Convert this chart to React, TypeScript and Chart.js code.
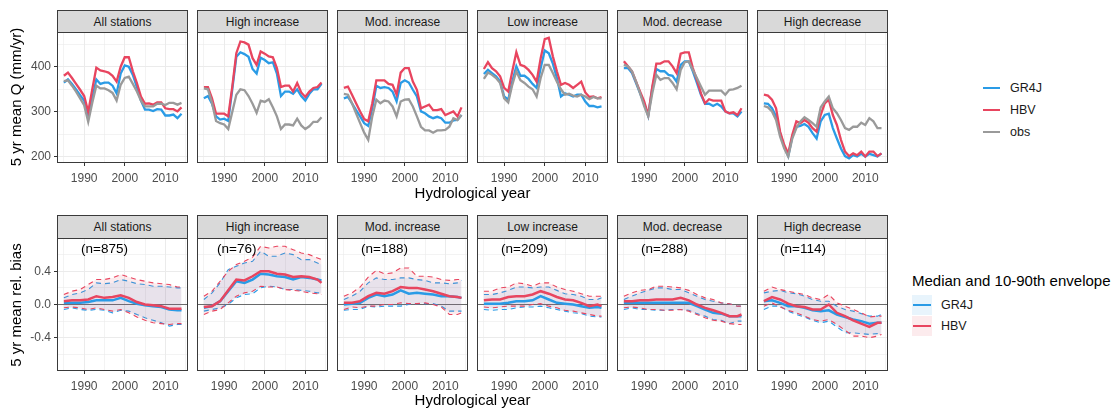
import React, { useEffect, useRef } from "react";
import { Chart, registerables } from "chart.js";

Chart.register(...registerables);

// ---------------- DATA ----------------
const YEARS = [
  1985, 1986, 1987, 1988, 1989, 1990, 1991, 1992, 1993, 1994, 1995, 1996, 1997, 1998, 1999,
  2000, 2001, 2002, 2003, 2004, 2005, 2006, 2007, 2008, 2009, 2010, 2011, 2012, 2013, 2014,
];
const YEARS_B = [1985, 1987, 1989, 1991, 1993, 1995, 1997, 1999, 2001, 2003, 2005, 2007, 2009, 2011, 2013, 2014];

const PANELS = ["All stations", "High increase", "Mod. increase", "Low increase", "Mod. decrease", "High decrease"];
const COUNTS = ["(n=875)", "(n=76)", "(n=188)", "(n=209)", "(n=288)", "(n=114)"];

const X_TICKS = [1985, 1990, 1995, 2000, 2005, 2010, 2015];
const Q_TICKS = [200, 250, 300, 350, 400, 450];
const B_TICKS = [-0.6, -0.4, -0.2, 0, 0.2, 0.4, 0.6];

// 5 yr mean Q (mm/yr), one row per panel
const Q_GR4J = [
  [365, 372, 362, 350, 337, 325, 288, 330, 372, 362, 365, 365, 358, 341, 385, 403, 400, 382, 355, 325, 305, 305, 302, 306, 305, 292, 292, 294, 286, 296],
  [330, 335, 318, 290, 283, 285, 280, 350, 422, 432, 428, 422, 395, 385, 420, 415, 408, 410, 385, 335, 345, 345, 340, 350, 335, 325, 340, 350, 350, 362],
  [330, 333, 319, 304, 290, 275, 269, 308, 358, 353, 355, 353, 345, 323, 364, 370, 365, 349, 334, 301, 297, 290, 286, 289, 286, 276, 276, 281, 282, 293],
  [384, 393, 386, 379, 367, 334, 327, 367, 401, 380, 380, 373, 362, 353, 397, 436, 430, 407, 375, 334, 341, 338, 334, 338, 338, 323, 313, 313, 310, 312],
  [397, 397, 386, 364, 341, 319, 291, 353, 395, 390, 390, 382, 380, 367, 404, 412, 412, 390, 364, 338, 318, 318, 313, 318, 312, 301, 297, 297, 290, 301],
  [319, 318, 308, 290, 253, 223, 202, 245, 267, 269, 273, 267, 253, 241, 279, 293, 296, 264, 241, 219, 202, 197, 204, 201, 207, 201, 207, 204, 201, 208],
];
const Q_HBV = [
  [380, 387, 375, 362, 349, 335, 300, 350, 398, 392, 390, 387, 380, 367, 400, 421, 421, 390, 364, 334, 318, 319, 316, 321, 321, 308, 306, 306, 301, 310],
  [355, 355, 330, 296, 296, 296, 290, 356, 430, 456, 454, 449, 419, 404, 434, 429, 423, 421, 397, 355, 358, 358, 345, 364, 343, 333, 345, 353, 355, 365],
  [353, 356, 338, 319, 301, 284, 279, 319, 370, 370, 370, 362, 360, 338, 387, 397, 397, 367, 349, 308, 312, 316, 304, 304, 306, 293, 297, 301, 290, 310],
  [395, 410, 397, 390, 379, 353, 345, 390, 432, 404, 401, 393, 382, 367, 419, 461, 464, 423, 390, 360, 364, 360, 353, 360, 367, 343, 333, 334, 330, 333],
  [412, 401, 390, 367, 345, 323, 293, 356, 407, 407, 412, 412, 401, 386, 429, 432, 432, 397, 371, 341, 319, 328, 325, 325, 325, 301, 297, 299, 293, 308],
  [338, 336, 327, 308, 256, 227, 208, 249, 279, 275, 282, 276, 264, 256, 293, 319, 327, 293, 271, 238, 212, 202, 208, 204, 212, 201, 212, 212, 202, 208],
];
const Q_OBS = [
  [368, 370, 358, 345, 330, 315, 278, 320, 358, 352, 352, 348, 342, 325, 360, 375, 378, 362, 345, 325, 312, 312, 312, 318, 318, 315, 320, 320, 316, 320],
  [352, 350, 320, 280, 275, 272, 262, 300, 338, 350, 348, 335, 318, 298, 325, 322, 328, 310, 290, 262, 272, 272, 270, 285, 270, 262, 268, 278, 278, 288],
  [340, 338, 319, 297, 275, 254, 238, 290, 327, 319, 325, 323, 312, 290, 323, 327, 328, 312, 290, 267, 259, 259, 254, 259, 259, 260, 267, 286, 282, 293],
  [373, 387, 382, 375, 364, 330, 321, 360, 390, 370, 364, 356, 350, 334, 375, 404, 404, 386, 367, 350, 338, 340, 336, 334, 338, 334, 328, 333, 330, 330],
  [404, 401, 390, 367, 341, 313, 290, 341, 382, 371, 375, 375, 364, 350, 393, 410, 412, 393, 375, 356, 338, 347, 347, 347, 347, 338, 349, 350, 353, 358],
  [313, 310, 301, 282, 245, 219, 201, 241, 264, 279, 288, 282, 275, 267, 310, 323, 334, 308, 297, 282, 264, 260, 267, 267, 276, 271, 286, 279, 264, 264],
];

// 5 yr mean relative bias: medians and 10th / 90th percentiles (at YEARS_B)
const B_GR4J_MED = [
  [0.02, 0.02, 0.02, 0.03, 0.05, 0.05, 0.05, 0.08, 0.04, 0.01, -0.01, -0.02, -0.03, -0.06, -0.07, -0.07],
  [-0.04, -0.02, 0.04, 0.16, 0.28, 0.26, 0.3, 0.37, 0.36, 0.34, 0.33, 0.3, 0.33, 0.32, 0.3, 0.29],
  [0.0, 0.01, 0.02, 0.08, 0.12, 0.1, 0.12, 0.17, 0.13, 0.14, 0.13, 0.12, 0.1, 0.1, 0.09, 0.08],
  [0.01, 0.01, 0.01, 0.02, 0.04, 0.04, 0.05, 0.1, 0.06, 0.02, 0.01, 0.0, -0.02, -0.04, -0.03, -0.04],
  [0.02, 0.02, 0.02, 0.02, 0.02, 0.02, 0.02, 0.02, 0.02, -0.02, -0.06, -0.1, -0.11, -0.14, -0.14, -0.14],
  [0.04, 0.05, 0.02, -0.02, -0.02, -0.04, -0.07, -0.08, -0.07, -0.12, -0.15, -0.18, -0.2, -0.23, -0.22, -0.22],
];
const B_HBV_MED = [
  [0.04, 0.05, 0.05, 0.06, 0.1, 0.08, 0.09, 0.11, 0.08, 0.03, 0.0, -0.01, -0.02, -0.05, -0.05, -0.05],
  [-0.03, -0.02, 0.04, 0.17, 0.3, 0.29, 0.34, 0.4, 0.4, 0.37, 0.36, 0.33, 0.34, 0.33, 0.3, 0.26],
  [0.02, 0.02, 0.04, 0.1, 0.14, 0.13, 0.16, 0.21, 0.2, 0.2, 0.18, 0.16, 0.13, 0.1, 0.09, 0.08],
  [0.05, 0.06, 0.06, 0.09, 0.1, 0.1, 0.12, 0.16, 0.13, 0.09, 0.06, 0.05, 0.02, -0.02, 0.0, -0.02],
  [0.04, 0.04, 0.05, 0.05, 0.06, 0.06, 0.06, 0.08, 0.05, 0.0, -0.04, -0.07, -0.1, -0.14, -0.14, -0.12],
  [0.04, 0.09, 0.06, 0.01, -0.02, -0.03, -0.06, -0.06, 0.0, -0.1, -0.14, -0.19, -0.23, -0.27, -0.22, -0.22],
];
const B_GR4J_HI = [
  [0.08, 0.12, 0.14, 0.18, 0.26, 0.25, 0.26, 0.3, 0.28, 0.25, 0.24, 0.22, 0.22, 0.21, 0.2, 0.2],
  [0.06, 0.14, 0.26, 0.42, 0.46, 0.5, 0.52, 0.64, 0.58, 0.58, 0.62, 0.6, 0.54, 0.54, 0.5, 0.48],
  [0.06, 0.1, 0.16, 0.26, 0.32, 0.3, 0.3, 0.32, 0.32, 0.3, 0.29, 0.26, 0.26, 0.25, 0.26, 0.29],
  [0.12, 0.12, 0.14, 0.17, 0.21, 0.21, 0.2, 0.21, 0.21, 0.17, 0.13, 0.12, 0.1, 0.06, 0.06, 0.08],
  [0.06, 0.1, 0.14, 0.17, 0.2, 0.2, 0.18, 0.18, 0.14, 0.1, 0.06, 0.04, 0.02, 0.01, -0.02, -0.02],
  [0.14, 0.16, 0.17, 0.14, 0.13, 0.1, 0.06, 0.04, 0.04, -0.02, -0.06, -0.08, -0.11, -0.14, -0.14, -0.12],
];
const B_HBV_HI = [
  [0.12, 0.16, 0.18, 0.24, 0.3, 0.3, 0.32, 0.36, 0.33, 0.3, 0.28, 0.26, 0.25, 0.24, 0.21, 0.21],
  [0.1, 0.16, 0.28, 0.4, 0.48, 0.52, 0.57, 0.7, 0.68, 0.7, 0.7, 0.66, 0.62, 0.6, 0.56, 0.54],
  [0.1, 0.14, 0.21, 0.33, 0.41, 0.37, 0.38, 0.44, 0.44, 0.34, 0.34, 0.33, 0.3, 0.29, 0.3, 0.3],
  [0.16, 0.16, 0.2, 0.21, 0.26, 0.25, 0.22, 0.26, 0.26, 0.21, 0.18, 0.16, 0.13, 0.1, 0.1, 0.1],
  [0.1, 0.14, 0.17, 0.18, 0.22, 0.22, 0.21, 0.2, 0.17, 0.12, 0.08, 0.06, 0.02, 0.01, -0.02, -0.02],
  [0.16, 0.21, 0.18, 0.16, 0.14, 0.12, 0.08, 0.06, 0.12, 0.02, -0.02, -0.06, -0.1, -0.15, -0.14, -0.14],
];
const B_GR4J_LO = [
  [-0.06, -0.04, -0.06, -0.07, -0.06, -0.07, -0.1, -0.07, -0.08, -0.12, -0.16, -0.19, -0.22, -0.26, -0.24, -0.24],
  [-0.08, -0.06, -0.04, 0.0, 0.08, 0.12, 0.13, 0.2, 0.22, 0.21, 0.18, 0.18, 0.17, 0.16, 0.14, 0.14],
  [-0.07, -0.06, -0.06, -0.02, -0.03, -0.02, -0.02, -0.02, 0.0, 0.01, 0.01, 0.01, -0.02, -0.08, -0.08, -0.08],
  [-0.06, -0.07, -0.06, -0.06, -0.04, -0.03, -0.03, -0.02, -0.04, -0.06, -0.08, -0.1, -0.11, -0.14, -0.15, -0.15],
  [-0.06, -0.04, -0.06, -0.06, -0.07, -0.07, -0.06, -0.06, -0.07, -0.11, -0.14, -0.18, -0.19, -0.23, -0.2, -0.2],
  [-0.06, -0.02, -0.02, -0.08, -0.12, -0.15, -0.19, -0.22, -0.2, -0.27, -0.34, -0.34, -0.35, -0.36, -0.35, -0.36],
];
const B_HBV_LO = [
  [-0.04, -0.03, -0.04, -0.06, -0.04, -0.06, -0.08, -0.06, -0.1, -0.15, -0.19, -0.22, -0.23, -0.24, -0.23, -0.23],
  [-0.12, -0.08, -0.06, 0.02, 0.1, 0.14, 0.16, 0.22, 0.21, 0.21, 0.18, 0.17, 0.16, 0.14, 0.13, 0.12],
  [-0.06, -0.03, -0.04, -0.02, -0.02, 0.0, 0.0, 0.02, 0.01, 0.01, 0.02, 0.0, -0.03, -0.12, -0.12, -0.1],
  [-0.03, -0.04, -0.03, -0.02, -0.02, -0.02, 0.0, 0.01, -0.02, -0.04, -0.07, -0.08, -0.1, -0.12, -0.14, -0.14],
  [-0.04, -0.03, -0.04, -0.06, -0.06, -0.07, -0.07, -0.06, -0.08, -0.12, -0.16, -0.19, -0.2, -0.23, -0.24, -0.24],
  [-0.02, 0.02, -0.03, -0.07, -0.1, -0.14, -0.18, -0.2, -0.18, -0.24, -0.31, -0.38, -0.38, -0.4, -0.38, -0.36],
];

// ---------------- STYLE / LAYOUT ----------------
const BLUE = "#2a9be6";
const RED = "#e8455f";
const GREY = "#9a9a9a";
const BLUE_FILL = "rgba(42,155,230,0.11)";
const RED_FILL = "rgba(232,69,95,0.11)";
const FONT = "'Liberation Sans', Arial, Helvetica, sans-serif";

const X_MIN = 1983.3;
const X_MAX = 2015.6;
const PANEL_LEFT0 = 57;
const PANEL_STEP = 140;
const PANEL_W = 131;
const Y_AXIS_W = 34;
const X_AXIS_H = 30;
const N_LABEL_OFFSET = [24, 20, 24, 24, 24, 23];
const TOP_ROW = { strip: 10, plotTop: 32, plotH: 131, yMin: 186.7, yMax: 477 };
const BOT_ROW = { strip: 215, plotTop: 238, plotH: 133, yMin: -0.8, yMax: 0.8 };

const panelBorder = {
  id: "panelBorder",
  afterDraw(chart: any) {
    const { ctx, chartArea: a } = chart;
    ctx.save();
    ctx.strokeStyle = "#3a3a3a";
    ctx.lineWidth = 1;
    ctx.strokeRect(
      Math.round(a.left) + 0.5,
      Math.round(a.top) + 0.5,
      Math.round(a.right - a.left) - 1,
      Math.round(a.bottom - a.top) - 1
    );
    ctx.restore();
  },
};

function FacetChart({ kind, idx }: { kind: "q" | "bias"; idx: number }) {
  const ref = useRef<HTMLCanvasElement | null>(null);
  const first = idx === 0;
  const yW = first ? Y_AXIS_W : 0;
  const row = kind === "q" ? TOP_ROW : BOT_ROW;
  const left = PANEL_LEFT0 + idx * PANEL_STEP - yW;
  const w = PANEL_W + yW;
  const h = row.plotH + X_AXIS_H;

  useEffect(() => {
    const pts = (xs: number[], ys: number[]) => xs.map((x, i) => ({ x, y: ys[i] }));
    let datasets: any[];
    if (kind === "q") {
      const line = (label: string, ys: number[], color: string) => ({
        label,
        data: pts(YEARS, ys),
        borderColor: color,
        backgroundColor: color,
        borderWidth: 2.3,
        pointRadius: 0,
        tension: 0,
        fill: false,
      });
      datasets = [
        line("obs", Q_OBS[idx], GREY),
        line("HBV", Q_HBV[idx], RED),
        line("GR4J", Q_GR4J[idx], BLUE),
      ];
    } else {
      const med = (label: string, ys: number[], color: string) => ({
        label,
        data: pts(YEARS_B, ys),
        borderColor: color,
        borderWidth: 2.5,
        pointRadius: 0,
        tension: 0,
        fill: false,
      });
      const env = (label: string, ys: number[], color: string, fillColor: string | null) => ({
        label,
        data: pts(YEARS_B, ys),
        borderColor: color,
        borderWidth: 1.1,
        borderDash: [5, 4],
        pointRadius: 0,
        tension: 0,
        fill: fillColor ? "-1" : false,
        backgroundColor: fillColor || "transparent",
      });
      datasets = [
        med("HBV median", B_HBV_MED[idx], RED),
        med("GR4J median", B_GR4J_MED[idx], BLUE),
        env("HBV 10th", B_HBV_LO[idx], RED, null),
        env("HBV 90th", B_HBV_HI[idx], RED, RED_FILL),
        env("GR4J 10th", B_GR4J_LO[idx], BLUE, null),
        env("GR4J 90th", B_GR4J_HI[idx], BLUE, BLUE_FILL),
      ];
    }

    const yTicks = kind === "q" ? Q_TICKS : B_TICKS;
    const yLabel = (v: number) => {
      if (kind === "q") return v % 100 === 0 ? String(v) : "";
      const r = Math.round(v * 10);
      return r % 4 === 0 ? (r / 10).toFixed(1) : "";
    };
    const yMajor = (v: number) => yLabel(v) !== "";

    const chart = new Chart(ref.current as HTMLCanvasElement, {
      type: "line",
      data: { datasets },
      plugins: [panelBorder],
      options: {
        animation: false,
        responsive: false,
        maintainAspectRatio: false,
        layout: { padding: 0 },
        plugins: { legend: { display: false }, tooltip: { enabled: false }, title: { display: false } },
        scales: {
          x: {
            type: "linear",
            min: X_MIN,
            max: X_MAX,
            afterBuildTicks: (s: any) => {
              s.ticks = X_TICKS.map((v) => ({ value: v }));
            },
            afterFit: (s: any) => {
              s.height = X_AXIS_H;
              s.paddingLeft = 0;
              s.paddingRight = 0;
            },
            ticks: {
              autoSkip: false,
              maxRotation: 0,
              minRotation: 0,
              padding: 5,
              color: "#4d4d4d",
              font: { family: FONT, size: 12 },
              callback: (v: any) => (Number(v) % 10 === 0 ? String(v) : ""),
            },
            grid: {
              color: "#ebebeb",
              lineWidth: (c: any) => (c.tick && c.tick.value % 10 === 0 ? 1 : 0.6),
              drawTicks: true,
              tickLength: 3,
              tickWidth: 1,
              tickColor: (c: any) => (c.tick && c.tick.value % 10 === 0 ? "#333333" : "rgba(0,0,0,0)"),
            },
            border: { display: false },
          },
          y: {
            type: "linear",
            min: row.yMin,
            max: row.yMax,
            afterBuildTicks: (s: any) => {
              s.ticks = yTicks.map((v) => ({ value: v }));
            },
            afterFit: (s: any) => {
              s.width = yW;
              s.paddingTop = 0;
              s.paddingBottom = 0;
            },
            ticks: {
              display: first,
              autoSkip: false,
              padding: 3,
              color: "#4d4d4d",
              font: { family: FONT, size: 12 },
              callback: (v: any) => yLabel(Number(v)),
            },
            grid: {
              color: (c: any) =>
                kind === "bias" && c.tick && Math.abs(c.tick.value) < 1e-9 ? "#6a6a6a" : "#ebebeb",
              lineWidth: (c: any) => (c.tick && yMajor(c.tick.value) ? 1 : 0.6),
              drawTicks: first,
              tickLength: 3,
              tickWidth: 1,
              tickColor: (c: any) => (c.tick && yMajor(c.tick.value) ? "#333333" : "rgba(0,0,0,0)"),
            },
            border: { display: false },
          },
        },
      } as any,
    });
    return () => chart.destroy();
  }, [kind, idx]);

  return (
    <canvas
      ref={ref}
      width={w}
      height={h}
      style={{ position: "absolute", left, top: row.plotTop, width: w, height: h }}
    />
  );
}

function Strip({ idx, row }: { idx: number; row: { strip: number; plotTop: number } }) {
  return (
    <div
      style={{
        position: "absolute",
        left: PANEL_LEFT0 + idx * PANEL_STEP,
        top: row.strip,
        width: PANEL_W,
        height: row.plotTop - row.strip + 1,
        boxSizing: "border-box",
        background: "#d9d9d9",
        border: "1px solid #3a3a3a",
        color: "#1a1a1a",
        fontSize: 12,
        display: "flex",
        alignItems: "center",
        justifyContent: "center",
      }}
    >
      {PANELS[idx]}
    </div>
  );
}

const text = (s: string, x: number, y: number, size: number, extra: any = {}) => (
  <div
    style={{
      position: "absolute",
      left: x,
      top: y,
      transform: "translate(-50%, -50%)",
      whiteSpace: "nowrap",
      fontSize: size,
      color: "#000",
      lineHeight: 1,
      ...extra,
    }}
  >
    {s}
  </div>
);

export default function App() {
  const idxs = [0, 1, 2, 3, 4, 5];
  const centerX = PANEL_LEFT0 + (5 * PANEL_STEP + PANEL_W) / 2;
  return (
    <div
      style={{
        position: "absolute",
        left: 0,
        top: 0,
        width: 1115,
        height: 410,
        background: "#fff",
        overflow: "hidden",
        fontFamily: FONT,
      }}
    >
      {idxs.map((i) => (
        <Strip key={"st" + i} idx={i} row={TOP_ROW} />
      ))}
      {idxs.map((i) => (
        <Strip key={"sb" + i} idx={i} row={BOT_ROW} />
      ))}
      {idxs.map((i) => (
        <FacetChart key={"q" + i} kind="q" idx={i} />
      ))}
      {idxs.map((i) => (
        <FacetChart key={"b" + i} kind="bias" idx={i} />
      ))}
      {idxs.map((i) => (
        <div
          key={"n" + i}
          style={{
            position: "absolute",
            left: PANEL_LEFT0 + i * PANEL_STEP + N_LABEL_OFFSET[i],
            top: 249,
            transform: "translateY(-50%)",
            fontSize: 13.5,
            lineHeight: 1,
            color: "#000",
            whiteSpace: "nowrap",
          }}
        >
          {COUNTS[i]}
        </div>
      ))}

      {text("5 yr mean Q (mm/yr)", 15, 97, 15, { transform: "translate(-50%, -50%) rotate(-90deg)" })}
      {text("5 yr mean rel. bias", 15, 305, 15, { transform: "translate(-50%, -50%) rotate(-90deg)" })}
      {text("Hydrological year", centerX, 192, 15)}
      {text("Hydrological year", centerX, 399, 15)}

      {/* Top legend */}
      {[
        ["GR4J", BLUE, 88],
        ["HBV", RED, 110],
        ["obs", GREY, 132],
      ].map(([lab, col, y]: any) => (
        <React.Fragment key={lab}>
          <div style={{ position: "absolute", left: 983, top: y - 1.25, width: 17, height: 2.5, background: col }} />
          <div
            style={{
              position: "absolute",
              left: 1010,
              top: y,
              transform: "translateY(-50%)",
              fontSize: 12.5,
              lineHeight: 1,
              color: "#1a1a1a",
            }}
          >
            {lab}
          </div>
        </React.Fragment>
      ))}

      {/* Bottom legend */}
      <div
        style={{
          position: "absolute",
          left: 912,
          top: 280,
          transform: "translateY(-50%)",
          fontSize: 15,
          lineHeight: 1,
          color: "#000",
          whiteSpace: "nowrap",
        }}
      >
        Median and 10-90th envelope
      </div>
      {[
        ["GR4J", BLUE, BLUE_FILL, 305],
        ["HBV", RED, RED_FILL, 326],
      ].map(([lab, col, fill, y]: any) => (
        <React.Fragment key={"l" + lab}>
          <div
            style={{
              position: "absolute",
              left: 912,
              top: y - 10,
              width: 20,
              height: 20,
              background: fill,
            }}
          />
          <div style={{ position: "absolute", left: 913, top: y - 1.25, width: 18, height: 2.5, background: col }} />
          <div
            style={{
              position: "absolute",
              left: 941,
              top: y,
              transform: "translateY(-50%)",
              fontSize: 12.5,
              lineHeight: 1,
              color: "#1a1a1a",
            }}
          >
            {lab}
          </div>
        </React.Fragment>
      ))}
    </div>
  );
}
